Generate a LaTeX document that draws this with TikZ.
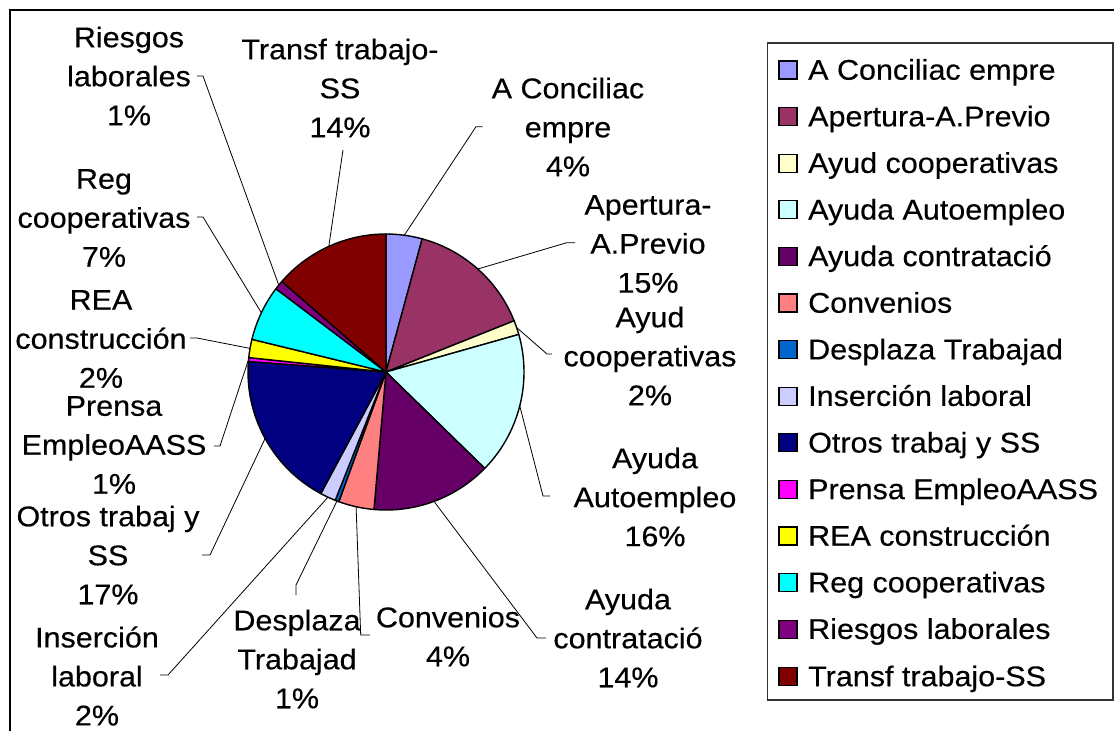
\documentclass[tikz,border=0pt]{standalone}
\usepackage{fontspec}
\setmainfont{Liberation Sans}
\newfontfamily\labfont[FakeStretch=1.07,FakeBold=0.35]{Liberation Sans}
\definecolor{cAConc}{HTML}{9999FF}
\definecolor{cApert}{HTML}{993366}
\definecolor{cAyudC}{HTML}{FFFFCC}
\definecolor{cAuto}{HTML}{CCFFFF}
\definecolor{cContr}{HTML}{660066}
\definecolor{cConv}{HTML}{FF8080}
\definecolor{cDespl}{HTML}{0066CC}
\definecolor{cInser}{HTML}{CCCCFF}
\definecolor{cOtros}{HTML}{000080}
\definecolor{cPrensa}{HTML}{FF00FF}
\definecolor{cREA}{HTML}{FFFF00}
\definecolor{cReg}{HTML}{00FFFF}
\definecolor{cRiesg}{HTML}{800080}
\definecolor{cTransf}{HTML}{800000}
\tikzset{
  slicestyle/.style={draw=black, line width=1.4pt, line join=round},
  leader/.style={draw=black, line width=0.8pt},
  lab/.style={font=\labfont\fontsize{28.5pt}{39pt}\selectfont, align=center, inner sep=0pt},
  legtext/.style={font=\labfont\fontsize{28.5pt}{39pt}\selectfont, anchor=base west, inner sep=0pt},
  swatch/.style={draw=black, line width=1.2pt, minimum size=18pt, inner sep=0pt},
  frameline/.style={draw=black, line width=2pt},
  legendbox/.style={draw=black!80, line width=1.3pt}
}
\newcommand\pieslice[3]{\filldraw[slicestyle, fill=#3] (O) -- ++(#1:138) arc[start angle=#1, end angle=#2, radius=138] -- cycle;}
\begin{document}
\begin{tikzpicture}[x=1pt, y=1pt]
\useasboundingbox (0,0) rectangle (1114,-731);
\fill[white] (0,0) rectangle (1114,-731);
% outer frame (cropped at right and bottom)
\draw[frameline] (9.5,-731) -- (9.5,-9.5) -- (1114,-9.5);
% legend box
\draw[legendbox] (767.5,-43) rectangle (1113,-700);

\coordinate (O) at (386,-372);

% leader lines
\coordinate (eRiesg) at (278.8,-285.2); \coordinate (bRiesg) at (203,-76); \coordinate (tRiesg) at (197,-76);
\draw[leader] (tRiesg) -- (bRiesg) -- (eRiesg);
\coordinate (eTransf) at (328.8,-246.4); \coordinate (bTransf) at (343,-150);
\draw[leader] (bTransf) -- (eTransf);
\coordinate (eAConc) at (404.3,-235.2); \coordinate (bAConc) at (476,-126.7); \coordinate (tAConc) at (482.7,-126.7);
\draw[leader] (tAConc) -- (bAConc) -- (eAConc);
\coordinate (eApert) at (477.8,-269); \coordinate (bApert) at (566.7,-242.7); \coordinate (tApert) at (575,-242.7);
\draw[leader] (tApert) -- (bApert) -- (eApert);
\coordinate (eAyudC) at (516.6,-327.5); \coordinate (bAyudC) at (547,-354); \coordinate (tAyudC) at (552,-354);
\draw[leader] (eAyudC) -- (bAyudC) -- (tAyudC);
\coordinate (eAuto) at (519.8,-406); \coordinate (bAuto) at (543,-496); \coordinate (tAuto) at (550,-496);
\draw[leader] (eAuto) -- (bAuto) -- (tAuto);
\coordinate (eContr) at (434,-501.4); \coordinate (bContr) at (537,-638); \coordinate (tContr) at (546,-638);
\draw[leader] (eContr) -- (bContr) -- (tContr);
\coordinate (eConv) at (356.1,-506.7); \coordinate (bConv) at (360.7,-635); \coordinate (tConv) at (370,-635);
\draw[leader] (eConv) -- (bConv) -- (tConv);
\coordinate (eDespl) at (337,-501); \coordinate (bDespl) at (296,-585); \coordinate (tDespl) at (296,-595);
\draw[leader] (eDespl) -- (bDespl) -- (tDespl);
\coordinate (eInser) at (327.9,-497.2); \coordinate (bInser) at (168,-675); \coordinate (tInser) at (160,-675);
\draw[leader] (eInser) -- (bInser) -- (tInser);
\coordinate (eOtros) at (265.1,-438.5); \coordinate (bOtros) at (210,-555); \coordinate (tOtros) at (202,-555);
\draw[leader] (eOtros) -- (bOtros) -- (tOtros);
\coordinate (ePrensa) at (248.5,-359.7); \coordinate (bPrensa) at (220,-446); \coordinate (tPrensa) at (214,-446);
\draw[leader] (ePrensa) -- (bPrensa) -- (tPrensa);
\coordinate (eREA) at (250,-348.4); \coordinate (bREA) at (197,-338); \coordinate (tREA) at (190,-338);
\draw[leader] (eREA) -- (bREA) -- (tREA);
\coordinate (eReg) at (261.4,-312.8); \coordinate (bReg) at (203,-217); \coordinate (tReg) at (197,-217);
\draw[leader] (eReg) -- (bReg) -- (tReg);

% pie slices
\pieslice{90}{74.8}{cAConc}
\pieslice{74.8}{21.8}{cApert}
\pieslice{21.8}{15.8}{cAyudC}
\pieslice{15.8}{-44.3}{cAuto}
\pieslice{-44.3}{-95}{cContr}
\pieslice{-95}{-110}{cConv}
\pieslice{-110}{-111.6}{cDespl}
\pieslice{-111.6}{-118.2}{cInser}
\pieslice{-118.2}{-184.4}{cOtros}
\pieslice{-184.4}{-186}{cPrensa}
\pieslice{-186}{-193.7}{cREA}
\pieslice{-193.7}{-217.1}{cReg}
\pieslice{-217.1}{-221}{cRiesg}
\pieslice{-221}{-270}{cTransf}

% pie labels
\node[lab] (lRiesg) at (129,-76) {Riesgos\\laborales\\1\%};
\node[lab] (lTransf) at (340,-88) {Transf trabajo-\\SS\\14\%};
\node[lab] (lAConc) at (568,-127) {A Conciliac\\empre\\4\%};
\node[lab] (lApert) at (648,-244) {Apertura-\\A.Previo\\15\%};
\node[lab] (lAyudC) at (650,-356) {Ayud\\cooperativas\\2\%};
\node[lab] (lAuto) at (655,-497) {Ayuda\\Autoempleo\\16\%};
\node[lab] (lContr) at (628,-638) {Ayuda\\contratació\\14\%};
\node[lab] (lConv) at (448,-636.5) {Convenios\\4\%};
\node[lab] (lDespl) at (297,-659) {Desplaza\\Trabajad\\1\%};
\node[lab] (lInser) at (97,-676) {Inserción\\laboral\\2\%};
\node[lab] (lOtros) at (108,-555) {Otros trabaj y\\SS\\17\%};
\node[lab] (lPrensa) at (114,-445) {Prensa\\EmpleoAASS\\1\%};
\node[lab] (lREA) at (101,-339) {REA\\construcción\\2\%};
\node[lab] (lReg) at (104,-218) {Reg\\cooperativas\\7\%};

% legend
\node[swatch, fill=cAConc] (s1) at (788,-70) {};
\node[legtext] (g1) at (808,-79.7) {A Conciliac empre};
\node[swatch, fill=cApert] (s2) at (788,-116.6) {};
\node[legtext] (g2) at (808,-126.3) {Apertura-A.Previo};
\node[swatch, fill=cAyudC] (s3) at (788,-163.2) {};
\node[legtext] (g3) at (808,-172.9) {Ayud cooperativas};
\node[swatch, fill=cAuto] (s4) at (788,-209.8) {};
\node[legtext] (g4) at (808,-219.5) {Ayuda Autoempleo};
\node[swatch, fill=cContr] (s5) at (788,-256.4) {};
\node[legtext] (g5) at (808,-266.1) {Ayuda contratació};
\node[swatch, fill=cConv] (s6) at (788,-303) {};
\node[legtext] (g6) at (808,-312.7) {Convenios};
\node[swatch, fill=cDespl] (s7) at (788,-349.6) {};
\node[legtext] (g7) at (808,-359.3) {Desplaza Trabajad};
\node[swatch, fill=cInser] (s8) at (788,-396.2) {};
\node[legtext] (g8) at (808,-405.9) {Inserción laboral};
\node[swatch, fill=cOtros] (s9) at (788,-442.8) {};
\node[legtext] (g9) at (808,-452.5) {Otros trabaj y SS};
\node[swatch, fill=cPrensa] (s10) at (788,-489.4) {};
\node[legtext] (g10) at (808,-499.1) {Prensa EmpleoAASS};
\node[swatch, fill=cREA] (s11) at (788,-536) {};
\node[legtext] (g11) at (808,-545.7) {REA construcción};
\node[swatch, fill=cReg] (s12) at (788,-582.6) {};
\node[legtext] (g12) at (808,-592.3) {Reg cooperativas};
\node[swatch, fill=cRiesg] (s13) at (788,-629.2) {};
\node[legtext] (g13) at (808,-638.9) {Riesgos laborales};
\node[swatch, fill=cTransf] (s14) at (788,-676.5) {};
\node[legtext] (g14) at (808,-686.2) {Transf trabajo-SS};
\end{tikzpicture}
\end{document}
